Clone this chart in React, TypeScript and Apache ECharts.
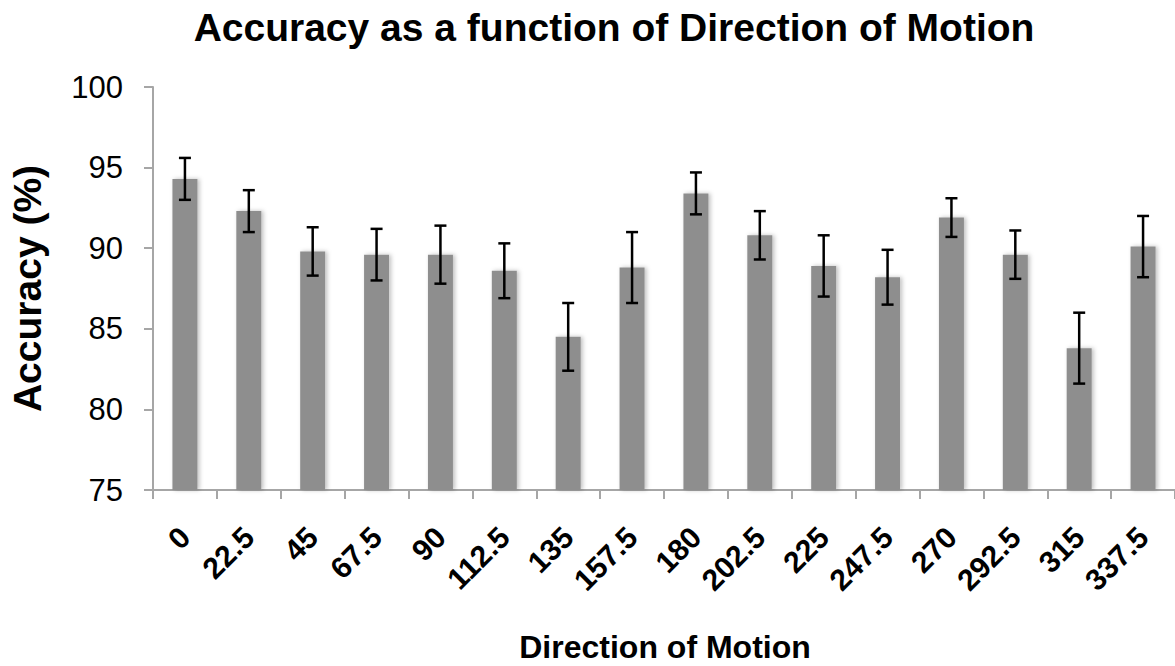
import React, { useEffect, useRef } from "react";
import * as echarts from "echarts";

const categories = ["0", "22.5", "45", "67.5", "90", "112.5", "135", "157.5", "180", "202.5", "225", "247.5", "270", "292.5", "315", "337.5"];
const accuracy = [94.3, 92.3, 89.8, 89.6, 89.6, 88.6, 84.5, 88.8, 93.4, 90.8, 88.9, 88.2, 91.9, 89.6, 83.8, 90.1];
const errors = [1.3, 1.3, 1.5, 1.6, 1.8, 1.7, 2.1, 2.2, 1.3, 1.5, 1.9, 1.7, 1.2, 1.5, 2.2, 1.9];
const yTicks = { min: 75, max: 100, interval: 5 };

const FONT = "Liberation Sans, Arial, sans-serif";

export default function App() {
  const ref = useRef<HTMLDivElement>(null);
  useEffect(() => {
    document.body.style.margin = "0";
    const chart = echarts.init(ref.current!, null, { renderer: "svg" });
    const errData = categories.map((_, i) => [i, accuracy[i] - errors[i], accuracy[i] + errors[i]]);
    const axisGray = "#a6a6a6";
    chart.setOption({
      animation: false,
      backgroundColor: "#ffffff",
      grid: { left: 152, right: -1, top: 87, bottom: 176, containLabel: false },
      graphic: [
        {
          type: "text",
          x: 614,
          y: 27,
          style: {
            text: "Accuracy as a function of Direction of Motion",
            font: `bold 39px ${FONT}`,
            fill: "#000",
            textAlign: "center",
            textVerticalAlign: "middle",
          },
        },
        {
          type: "text",
          x: 665,
          y: 647,
          style: {
            text: "Direction of Motion",
            font: `bold 32px ${FONT}`,
            fill: "#000",
            textAlign: "center",
            textVerticalAlign: "middle",
          },
        },
      ],
      xAxis: {
        type: "category",
        data: categories,
        boundaryGap: true,
        axisLine: { show: true, lineStyle: { color: axisGray, width: 2 } },
        axisTick: { show: true, alignWithLabel: false, interval: 0, length: 9, lineStyle: { color: axisGray, width: 2 } },
        axisLabel: {
          interval: 0,
          rotate: 45,
          margin: 42,
          color: "#000",
          fontSize: 30,
          fontWeight: "bold",
          fontFamily: FONT,
        },
        splitLine: { show: false },
      },
      yAxis: {
        type: "value",
        min: yTicks.min,
        max: yTicks.max,
        interval: yTicks.interval,
        name: "Accuracy (%)",
        nameLocation: "middle",
        nameGap: 106,
        nameTextStyle: { color: "#000", fontSize: 39, fontWeight: "bold", fontFamily: FONT },
        axisLine: { show: true, lineStyle: { color: axisGray, width: 2 } },
        axisTick: { show: true, length: 9, lineStyle: { color: axisGray, width: 2 } },
        axisLabel: { margin: 30, color: "#000", fontSize: 31, fontFamily: FONT },
        splitLine: { show: false },
      },
      series: [
        {
          type: "bar",
          data: accuracy,
          barWidth: 25,
          itemStyle: {
            color: "#8e8e8e",
            shadowBlur: 4,
            shadowColor: "rgba(0,0,0,0.25)",
            shadowOffsetX: 2,
            shadowOffsetY: 0,
          },
          z: 2,
        },
        {
          type: "custom",
          data: errData,
          encode: { x: 0, y: [1, 2] },
          z: 5,
          renderItem: (params: any, api: any) => {
            const x = api.value(0);
            const lo = api.coord([x, api.value(1)]);
            const hi = api.coord([x, api.value(2)]);
            const hw = 6;
            const style = { stroke: "#000", lineWidth: 2.5 };
            return {
              type: "group",
              children: [
                { type: "line", shape: { x1: lo[0], y1: lo[1], x2: hi[0], y2: hi[1] }, style },
                { type: "line", shape: { x1: hi[0] - hw, y1: hi[1], x2: hi[0] + hw, y2: hi[1] }, style },
                { type: "line", shape: { x1: lo[0] - hw, y1: lo[1], x2: lo[0] + hw, y2: lo[1] }, style },
              ],
            };
          },
        },
      ],
    });
    return () => chart.dispose();
  }, []);
  return <div ref={ref} style={{ width: 1175, height: 666 }} />;
}
